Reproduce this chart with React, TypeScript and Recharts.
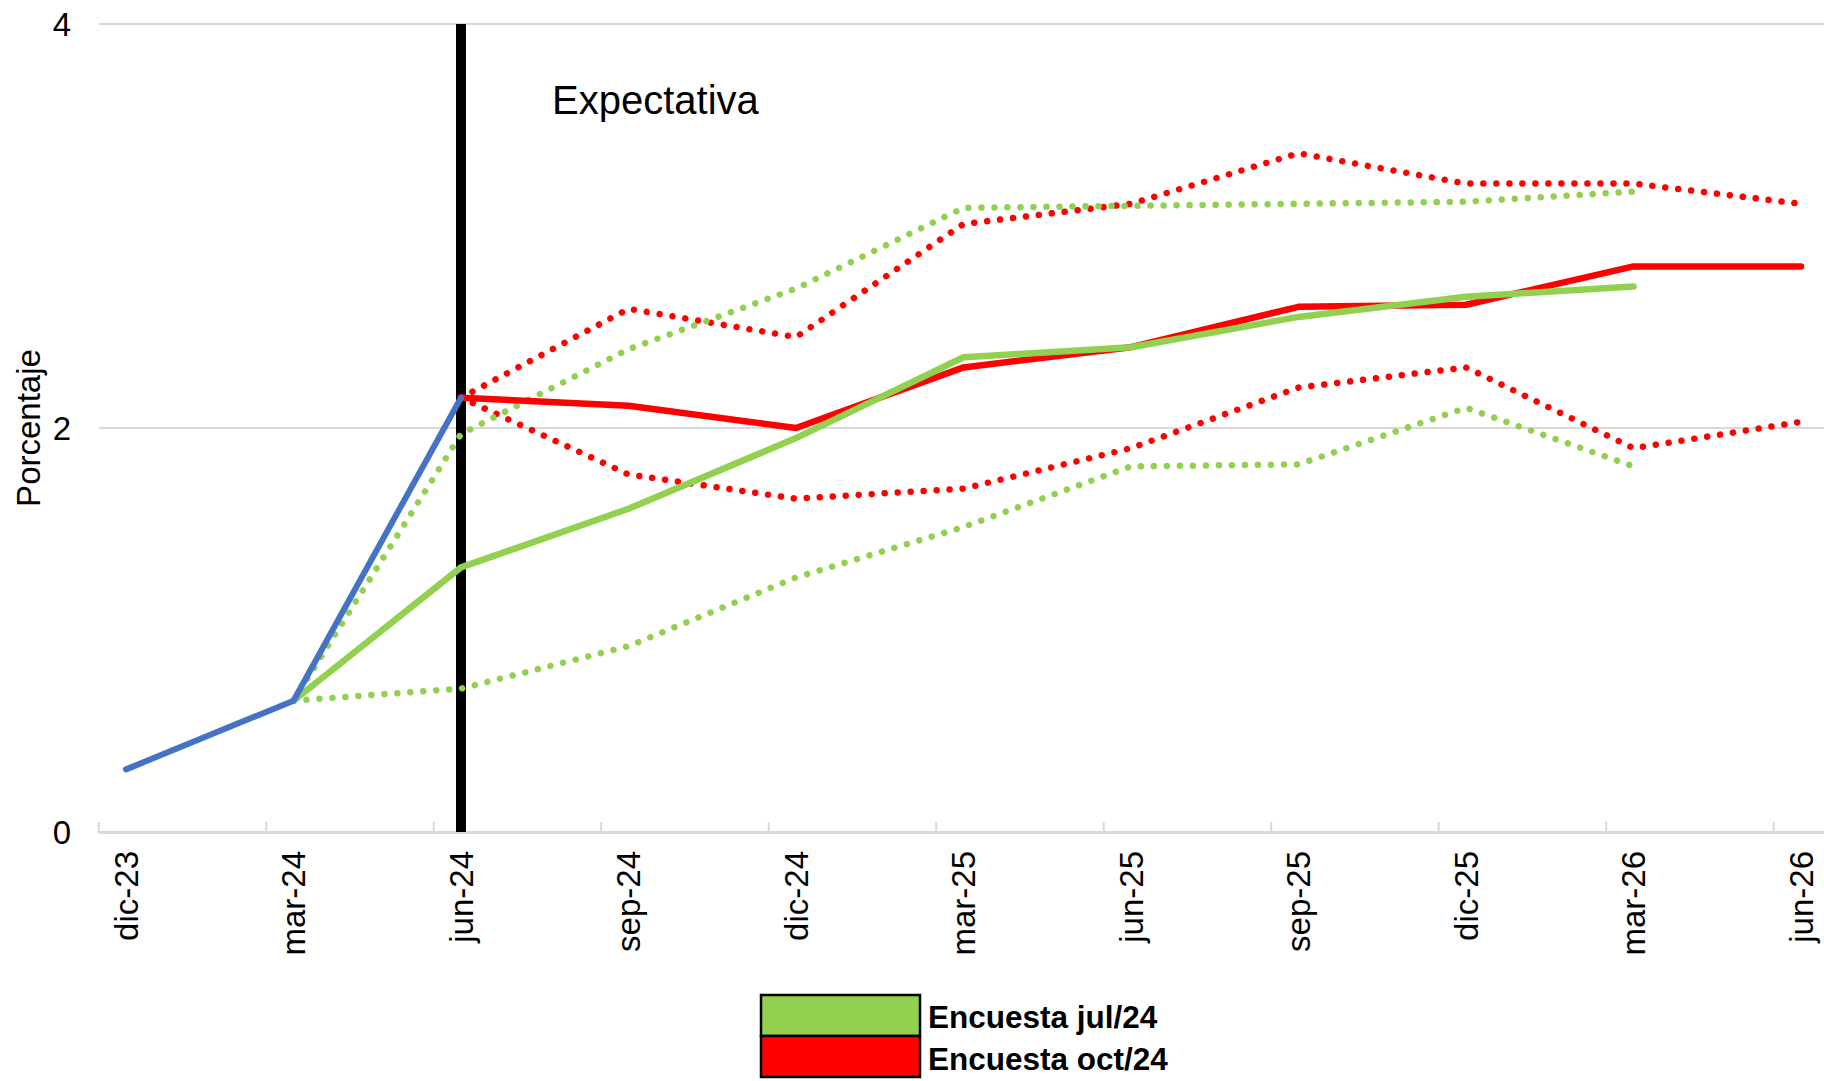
import React from 'react';
import { LineChart, Line, XAxis, YAxis, CartesianGrid, ReferenceLine } from 'recharts';

const CATEGORIES = ['dic-23', 'mar-24', 'jun-24', 'sep-24', 'dic-24', 'mar-25', 'jun-25', 'sep-25', 'dic-25', 'mar-26', 'jun-26'];
const ACTUAL = [0.31, 0.65, 2.15, null, null, null, null, null, null, null, null];
const JUL_MED = [null, 0.65, 1.31, 1.6, 1.95, 2.35, 2.4, 2.55, 2.65, 2.7, null];
const JUL_LOW = [null, 0.65, 0.71, 0.92, 1.26, 1.51, 1.81, 1.82, 2.1, 1.81, null];
const JUL_HIGH = [null, 0.65, 1.97, 2.39, 2.69, 3.09, 3.1, 3.11, 3.12, 3.17, null];
const OCT_MED = [null, null, 2.15, 2.11, 2.0, 2.3, 2.4, 2.6, 2.61, 2.8, 2.8];
const OCT_LOW = [null, null, 2.15, 1.77, 1.65, 1.7, 1.9, 2.2, 2.3, 1.9, 2.03];
const OCT_HIGH = [null, null, 2.15, 2.59, 2.45, 3.01, 3.11, 3.36, 3.21, 3.21, 3.11];
const Y_TICKS = [0, 2, 4];
const LEGEND_LABELS = ['Encuesta jul/24', 'Encuesta oct/24'];
const LEGEND_COLORS = ['#92D050', '#FF0000'];
const Y_TITLE = 'Porcentaje';
const ANNOTATION = 'Expectativa';
const EXPECTATION_START = 'jun-24';

const X_VALUES = CATEGORIES.map((_, i) => i);
const TICK_MARKS = CATEGORIES.map((_, i) => i - 0.163);
const X_DOMAIN: [number, number] = [-0.1612, 10.1373];

const data = CATEGORIES.map((c, i) => ({
  x: i,
  cat: c,
  actual: ACTUAL[i],
  julMed: JUL_MED[i],
  julLow: JUL_LOW[i],
  julHigh: JUL_HIGH[i],
  octMed: OCT_MED[i],
  octLow: OCT_LOW[i],
  octHigh: OCT_HIGH[i],
}));

const FONT = '"Liberation Sans", Arial, sans-serif';
const GREEN = '#92D050';
const RED = '#FF0000';
const BLUE = '#4472C4';
const GRID = '#D9D9D9';

const XTick = (props: any) => {
  const { x, y, payload } = props;
  const label = CATEGORIES[Math.round(payload.value)];
  return (
    <text
      x={x}
      y={y}
      transform={`rotate(-90, ${x}, ${y})`}
      textAnchor="end"
      dominantBaseline="central"
      fontSize={33}
      fontFamily={FONT}
      fill="#000"
    >
      {label}
    </text>
  );
};

const EmptyTick = () => <g />;

const AnnotationLabel = (props: any) => {
  const vb = props.viewBox || { x: 0, y: 0 };
  return (
    <text x={vb.x + 91} y={vb.y + 90} fontSize={40} fontFamily={FONT} fill="#000">
      {ANNOTATION}
    </text>
  );
};

const dotted = {
  strokeWidth: 6.5,
  strokeDasharray: '0.01 13',
  strokeLinecap: 'round' as const,
  strokeLinejoin: 'round' as const,
};

export default function App() {
  return (
    <div style={{ position: 'absolute', left: 0, top: 0, width: 1824, height: 1081, background: '#fff' }}>
      <LineChart
        width={1824}
        height={1081}
        data={data}
        margin={{ top: 24, right: 0, bottom: 247, left: 0 }}
      >
        <CartesianGrid horizontal vertical={false} stroke={GRID} strokeWidth={2} xAxisId="lab" />
        <XAxis
          xAxisId="tm"
          dataKey="x"
          type="number"
          domain={X_DOMAIN}
          allowDataOverflow
          ticks={TICK_MARKS}
          interval={0}
          height={1}
          tickSize={-11}
          tick={EmptyTick}
          tickLine={{ stroke: GRID, strokeWidth: 2 }}
          axisLine={{ stroke: GRID, strokeWidth: 2 }}
        />
        <XAxis
          xAxisId="lab"
          dataKey="x"
          type="number"
          domain={X_DOMAIN}
          allowDataOverflow
          ticks={X_VALUES}
          interval={0}
          height={1}
          tickSize={0}
          tickMargin={19}
          tickLine={false}
          axisLine={false}
          tick={XTick}
        />
        <YAxis
          domain={[0, 4]}
          ticks={Y_TICKS}
          width={99}
          axisLine={false}
          tickLine={false}
          tickSize={0}
          tickMargin={28}
          tick={{ fontSize: 33, fill: '#000', fontFamily: FONT }}
        />
        <ReferenceLine
          xAxisId="lab"
          x={CATEGORIES.indexOf(EXPECTATION_START)}
          stroke="#000"
          strokeWidth={10}
          label={AnnotationLabel}
        />
        <Line xAxisId="lab" dataKey="octHigh" stroke={RED} {...dotted} dot={false} activeDot={false} isAnimationActive={false} />
        <Line xAxisId="lab" dataKey="octLow" stroke={RED} {...dotted} dot={false} activeDot={false} isAnimationActive={false} />
        <Line xAxisId="lab" dataKey="julHigh" stroke={GREEN} {...dotted} dot={false} activeDot={false} isAnimationActive={false} />
        <Line xAxisId="lab" dataKey="julLow" stroke={GREEN} {...dotted} dot={false} activeDot={false} isAnimationActive={false} />
        <Line xAxisId="lab" dataKey="octMed" stroke={RED} strokeWidth={6.5} strokeLinecap="round" strokeLinejoin="round" dot={false} activeDot={false} isAnimationActive={false} />
        <Line xAxisId="lab" dataKey="julMed" stroke={GREEN} strokeWidth={6.5} strokeLinecap="round" strokeLinejoin="round" dot={false} activeDot={false} isAnimationActive={false} />
        <Line xAxisId="lab" dataKey="actual" stroke={BLUE} strokeWidth={6} strokeLinecap="round" strokeLinejoin="round" dot={false} activeDot={false} isAnimationActive={false} />
      </LineChart>
      <svg
        width={1824}
        height={1081}
        style={{ position: 'absolute', left: 0, top: 0, pointerEvents: 'none' }}
      >
        <text
          transform="translate(28, 428) rotate(-90)"
          textAnchor="middle"
          dominantBaseline="central"
          fontSize={33}
          fontFamily={FONT}
          fill="#000"
        >
          {Y_TITLE}
        </text>
        {LEGEND_LABELS.map((lab, i) => (
          <g key={lab}>
            <rect x={761} y={995 + i * 41} width={159} height={41} fill={LEGEND_COLORS[i]} stroke="#000" strokeWidth={2.5} />
            <text x={928} y={1028 + i * 42} fontSize={31.5} fontWeight="bold" fontFamily={FONT} fill="#000">
              {lab}
            </text>
          </g>
        ))}
      </svg>
    </div>
  );
}
